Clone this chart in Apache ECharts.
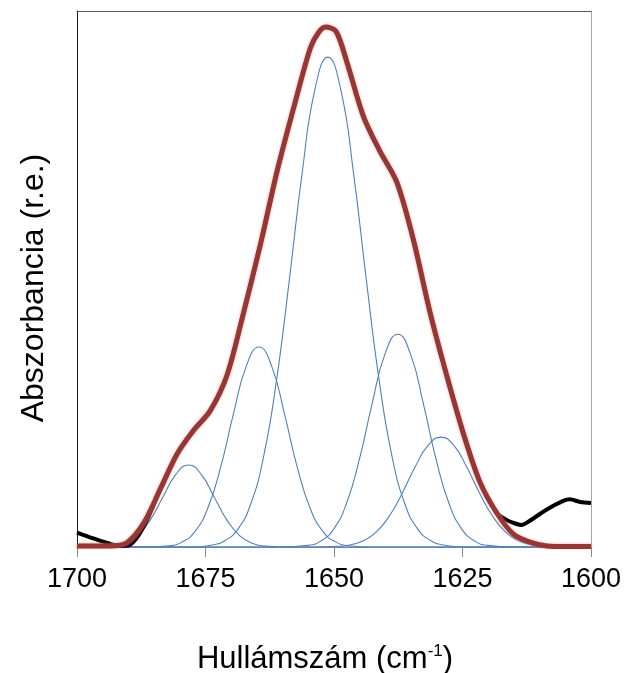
<!DOCTYPE html>
<html>
<head>
<meta charset="utf-8">
<script src="https://cdn.jsdelivr.net/npm/echarts@6/dist/echarts.min.js"></script>
<style>
html,body{margin:0;padding:0;background:#fff;}
#c{width:629px;height:673px;}
</style>
</head>
<body>
<div id="c"></div>
<script>
// x tick labels (wavenumber, cm-1)
const xTicks = [1700, 1675, 1650, 1625, 1600];

// measured spectrum (black)
const measuredX = [1700, 1696.8, 1693.6, 1691.6, 1689.7, 1687.0, 1683.8, 1680.5, 1677.3, 1674.1, 1670.8, 1667.6, 1664.3, 1661.1, 1657.8, 1654.6, 1653.0, 1651.6, 1649.6, 1647.5, 1644.3, 1641.1, 1637.8, 1634.6, 1631.3, 1628.1, 1624.8, 1621.6, 1618.3, 1616.7, 1615.1, 1613.5, 1611.9, 1608.6, 1605.4, 1604.1, 1602.1, 1600];
const measuredY = [0.027, 0.016, 0.006, 0.002, 0.004, 0.038, 0.108, 0.174, 0.218, 0.254, 0.321, 0.437, 0.565, 0.700, 0.821, 0.931, 0.960, 0.970, 0.962, 0.905, 0.804, 0.739, 0.681, 0.575, 0.437, 0.321, 0.211, 0.121, 0.063, 0.052, 0.045, 0.041, 0.049, 0.070, 0.086, 0.089, 0.084, 0.082];

// fitted envelope (red)
const fitX = [1700, 1693.6, 1690.3, 1687.0, 1683.8, 1680.5, 1677.3, 1674.1, 1670.8, 1667.6, 1664.3, 1661.1, 1657.8, 1654.6, 1653.0, 1651.6, 1649.6, 1647.5, 1644.3, 1641.1, 1637.8, 1634.6, 1631.3, 1628.1, 1624.8, 1621.6, 1618.3, 1615.1, 1611.9, 1608.6, 1605.0, 1600];
const fitY = [0.002, 0.002, 0.008, 0.045, 0.108, 0.174, 0.218, 0.254, 0.321, 0.437, 0.565, 0.700, 0.821, 0.931, 0.960, 0.970, 0.962, 0.905, 0.804, 0.739, 0.681, 0.575, 0.437, 0.321, 0.211, 0.121, 0.063, 0.024, 0.009, 0.002, 0.001, 0.001];

// component bands (blue)
const band1X = [1700, 1698.3, 1693.3, 1690.8, 1688.3, 1685.8, 1683.3, 1680.8, 1678.3, 1675.8, 1673.3, 1670.8, 1668.3, 1665.8, 1663.3, 1658.3, 1600];
const band1Y = [0, 0, 0.0017, 0.0067, 0.0207, 0.0497, 0.0928, 0.135, 0.153, 0.135, 0.0928, 0.0497, 0.0207, 0.0067, 0.0017, 0, 0];

const band2X = [1700, 1687.1, 1682.1, 1679.6, 1677.1, 1674.6, 1672.1, 1669.6, 1667.1, 1664.6, 1662.1, 1659.6, 1657.1, 1654.6, 1652.1, 1649.6, 1647.1, 1642.1, 1600];
const band2Y = [0, 0, 0.0023, 0.0091, 0.0282, 0.0714, 0.1472, 0.2468, 0.3365, 0.373, 0.3365, 0.2468, 0.1472, 0.0714, 0.0282, 0.0091, 0.0023, 0, 0];

const band3X = [1700, 1678.7, 1673.7, 1671.2, 1668.7, 1666.2, 1663.7, 1661.2, 1658.7, 1656.2, 1653.7, 1651.2, 1648.7, 1646.2, 1643.7, 1641.2, 1638.7, 1636.2, 1633.7, 1631.2, 1628.7, 1623.7, 1600];
const band3Y = [0, 0, 0.0038, 0.0121, 0.0334, 0.0802, 0.1687, 0.31, 0.4975, 0.6976, 0.8542, 0.914, 0.8542, 0.6976, 0.4975, 0.31, 0.1687, 0.0802, 0.0334, 0.0121, 0.0038, 0, 0];

const band4X = [1700, 1660.1, 1655.1, 1652.6, 1650.1, 1647.6, 1645.1, 1642.6, 1640.1, 1637.6, 1635.1, 1632.6, 1630.1, 1627.6, 1625.1, 1622.6, 1620.1, 1615.1, 1600];
const band4Y = [0, 0, 0.003, 0.011, 0.0329, 0.0806, 0.1619, 0.2665, 0.3594, 0.397, 0.3594, 0.2665, 0.1619, 0.0806, 0.0329, 0.011, 0.003, 0, 0];

const band5X = [1700, 1654.2, 1649.2, 1646.7, 1644.2, 1641.7, 1639.2, 1636.7, 1634.2, 1631.7, 1629.2, 1626.7, 1624.2, 1621.7, 1619.2, 1616.7, 1614.2, 1611.7, 1609.2, 1604.2, 1600];
const band5Y = [0, 0, 0.0013, 0.0043, 0.012, 0.0286, 0.0582, 0.1009, 0.1496, 0.1895, 0.205, 0.1895, 0.1496, 0.1009, 0.0582, 0.0286, 0.012, 0.0043, 0.0013, 0, 0];

const zip = (xs, ys) => xs.map((x, i) => [x, ys[i]]);
const bands = [[band1X, band1Y], [band2X, band2Y], [band3X, band3Y], [band4X, band4Y], [band5X, band5Y]];

const FONT = '"Liberation Sans", Arial, sans-serif';

const bandSeries = bands.map((b, i) => ({
  name: 'band' + (i + 1),
  type: 'line',
  xAxisIndex: 0, yAxisIndex: 0,
  data: zip(b[0], b[1]),
  showSymbol: false,
  smooth: 0.5,
  lineStyle: { color: '#4f81bd', width: 1.1 },
  z: 2,
  silent: true
}));

const chart = echarts.init(document.getElementById('c'), null, { renderer: 'canvas' });
chart.setOption({
  animation: false,
  backgroundColor: '#ffffff',
  grid: { left: 77, right: 38, top: 11, bottom: 126, containLabel: false, outerBoundsMode: 'none' },
  xAxis: [{
    type: 'value',
    min: 1600, max: 1700, interval: 25,
    inverse: true,
    position: 'bottom',
    axisLine: { show: true, lineStyle: { color: '#868686', width: 1 } },
    axisTick: { show: true, inside: false, length: 10, lineStyle: { color: '#868686', width: 1 } },
    axisLabel: {
      show: true, margin: 19, color: '#000', fontSize: 27, fontFamily: FONT,
      formatter: v => (xTicks.indexOf(v) >= 0 ? String(v) : '')
    },
    splitLine: { show: false },
    name: '{n|Hullámszám (cm}{s|-1}{n|)}',
    nameLocation: 'middle',
    nameGap: 95,
    nameTextStyle: {
      padding: [0, 18, 0, 0],
      rich: {
        n: { fontSize: 31, fontFamily: FONT, color: '#000', lineHeight: 34 },
        s: { fontSize: 17, fontFamily: FONT, color: '#000', padding: [0, 0, 16, 0] }
      }
    }
  }, {
    type: 'value',
    min: 1600, max: 1700,
    inverse: true,
    position: 'top',
    axisLine: { show: true, onZero: false, lineStyle: { color: '#595959', width: 1 } },
    axisTick: { show: false },
    axisLabel: { show: false },
    splitLine: { show: false }
  }],
  yAxis: [{
    type: 'value',
    min: 0, max: 1,
    position: 'left',
    axisLine: { show: true, onZero: false, lineStyle: { color: '#1a1a1a', width: 1 } },
    axisTick: { show: false },
    axisLabel: { show: false },
    splitLine: { show: false },
    name: 'Abszorbancia (r.e.)',
    nameLocation: 'middle',
    nameGap: 27,
    nameTextStyle: { fontSize: 32, fontFamily: FONT, color: '#000', padding: [0, 18, 0, 0] }
  }, {
    type: 'value',
    min: 0, max: 1,
    position: 'right',
    axisLine: { show: true, onZero: false, lineStyle: { color: '#a6a6a6', width: 1 } },
    axisTick: { show: false },
    axisLabel: { show: false },
    splitLine: { show: false }
  }],
  series: bandSeries.concat([
    {
      name: 'measured',
      type: 'line',
      data: zip(measuredX, measuredY),
      showSymbol: false,
      smooth: 0.3,
      lineStyle: { color: '#000000', width: 4 },
      z: 3,
      silent: true
    },
    {
      name: 'fit',
      type: 'line',
      data: zip(fitX, fitY),
      showSymbol: false,
      smooth: 0.3,
      lineStyle: { color: '#953735', width: 5, shadowColor: 'rgba(230,120,120,0.7)', shadowBlur: 3 },
      z: 4,
      silent: true
    }
  ])
});
</script>
</body>
</html>
